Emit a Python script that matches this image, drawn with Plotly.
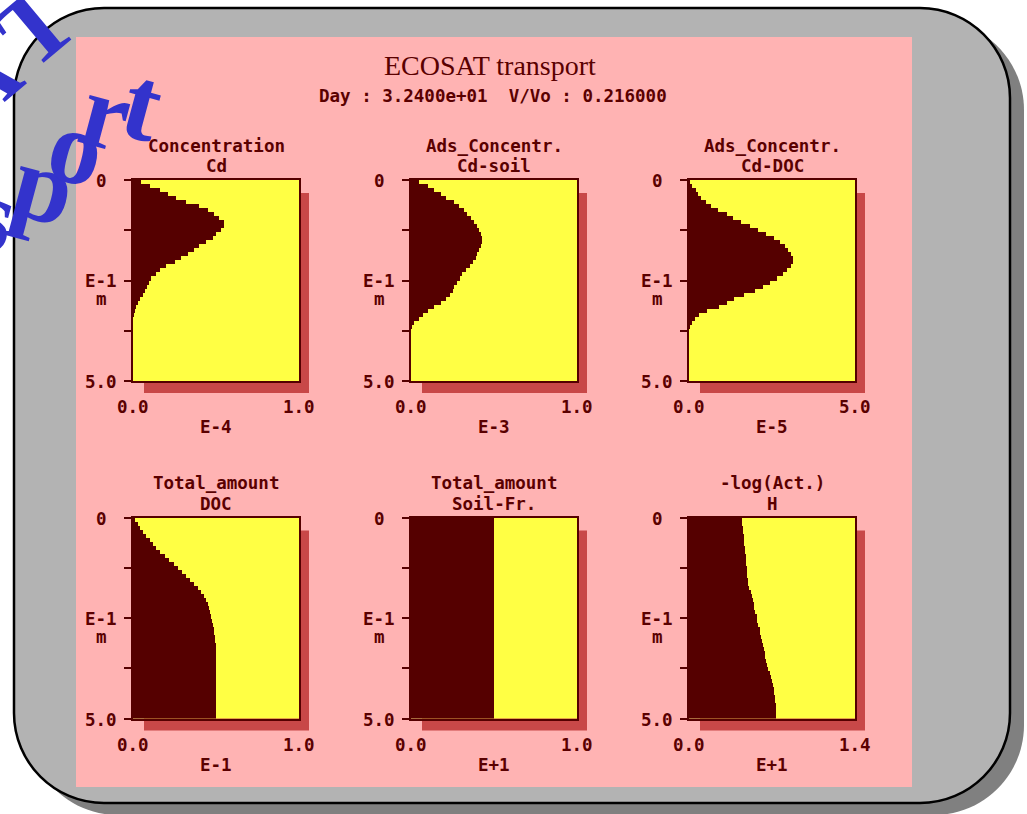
import plotly.graph_objects as go

W, H = 1027, 814

# ---------------------------------------------------------------------------
# Data (depth layers of 0.01 m, values in the units shown under each panel)
# ---------------------------------------------------------------------------

DEPTH = [0.005, 0.015, 0.025, 0.035, 0.045, 0.055, 0.065, 0.075, 0.085, 0.095,
         0.105, 0.115, 0.125, 0.135, 0.145, 0.155, 0.165, 0.175, 0.185, 0.195,
         0.205, 0.215, 0.225, 0.235, 0.245, 0.255, 0.265, 0.275, 0.285, 0.295,
         0.305, 0.315, 0.325, 0.335, 0.345, 0.355, 0.365, 0.375, 0.385, 0.395,
         0.405, 0.415, 0.425, 0.435, 0.445, 0.455, 0.465, 0.475, 0.485, 0.495]

CONC_CD = [0.05, 0.10, 0.16, 0.21, 0.26, 0.32, 0.40, 0.45, 0.49, 0.52,
           0.55, 0.55, 0.53, 0.50, 0.48, 0.44, 0.40, 0.37, 0.33, 0.29,
           0.25, 0.20, 0.16, 0.14, 0.11, 0.095, 0.085, 0.07, 0.06, 0.045,
           0.03, 0.018, 0.008, 0.002, 0, 0, 0, 0, 0, 0,
           0, 0, 0, 0, 0, 0, 0, 0, 0, 0]

ADS_CD_SOIL = [0.05, 0.10, 0.14, 0.18, 0.21, 0.26, 0.29, 0.32, 0.34, 0.36,
               0.38, 0.40, 0.41, 0.42, 0.43, 0.425, 0.42, 0.41, 0.40, 0.39,
               0.375, 0.355, 0.33, 0.31, 0.295, 0.28, 0.26, 0.25, 0.235, 0.21,
               0.18, 0.14, 0.10, 0.07, 0.05, 0.02, 0.005, 0, 0, 0,
               0, 0, 0, 0, 0, 0, 0, 0, 0, 0]

ADS_CD_DOC = [0.02, 0.10, 0.20, 0.26, 0.36, 0.52, 0.67, 0.88, 1.13, 1.33,
              1.58, 1.83, 2.08, 2.33, 2.55, 2.75, 2.88, 2.98, 3.06, 3.12,
              3.14, 3.06, 2.96, 2.82, 2.66, 2.45, 2.24, 1.98, 1.65, 1.35,
              1.15, 0.90, 0.55, 0.30, 0.18, 0.08, 0.02, 0, 0, 0,
              0, 0, 0, 0, 0, 0, 0, 0, 0, 0]

TOTAL_DOC = [0.01, 0.03, 0.04, 0.06, 0.08, 0.10, 0.12, 0.14, 0.16, 0.19,
             0.215, 0.245, 0.27, 0.295, 0.32, 0.345, 0.37, 0.39, 0.41, 0.425,
             0.44, 0.45, 0.46, 0.465, 0.47, 0.475, 0.48, 0.485, 0.49, 0.493,
             0.496, 0.498, 0.50, 0.50, 0.50, 0.50, 0.50, 0.50, 0.50, 0.50,
             0.50, 0.50, 0.50, 0.50, 0.50, 0.50, 0.50, 0.50, 0.50, 0.50]

TOTAL_SOIL = [0.5, 0.5, 0.5, 0.5, 0.5, 0.5, 0.5, 0.5, 0.5, 0.5,
              0.5, 0.5, 0.5, 0.5, 0.5, 0.5, 0.5, 0.5, 0.5, 0.5,
              0.5, 0.5, 0.5, 0.5, 0.5, 0.5, 0.5, 0.5, 0.5, 0.5,
              0.5, 0.5, 0.5, 0.5, 0.5, 0.5, 0.5, 0.5, 0.5, 0.5,
              0.5, 0.5, 0.5, 0.5, 0.5, 0.5, 0.5, 0.5, 0.5, 0.5]

LOG_ACT_H = [0.448, 0.450, 0.455, 0.457, 0.460, 0.464, 0.467, 0.470, 0.474, 0.477,
             0.480, 0.483, 0.486, 0.489, 0.492, 0.495, 0.50, 0.51, 0.52, 0.53,
             0.54, 0.545, 0.55, 0.56, 0.57, 0.575, 0.585, 0.595, 0.60, 0.605,
             0.615, 0.625, 0.632, 0.64, 0.645, 0.65, 0.66, 0.67, 0.68, 0.69,
             0.70, 0.71, 0.715, 0.72, 0.725, 0.728, 0.73, 0.732, 0.733, 0.733]

TITLES = [("Concentration", "Cd"), ("Ads_Concentr.", "Cd-soil"), ("Ads_Concentr.", "Cd-DOC"),
          ("Total_amount", "DOC"), ("Total_amount", "Soil-Fr."), ("-log(Act.)", "H")]
SERIES = [CONC_CD, ADS_CD_SOIL, ADS_CD_DOC, TOTAL_DOC, TOTAL_SOIL, LOG_ACT_H]
X_MAX = [1.0, 1.0, 5.0, 1.0, 1.0, 1.4]
X_MAX_LABELS = ["1.0", "1.0", "5.0", "1.0", "1.0", "1.4"]
X_UNITS = ["E-4", "E-3", "E-5", "E-1", "E+1", "E+1"]
Y_TICKS = [0, 0.125, 0.25, 0.375, 0.5]

MAIN_TITLE = "ECOSAT transport"
SUBTITLE = "Day : 3.2400e+01&nbsp; V/Vo : 0.216000"

# ---------------------------------------------------------------------------
# Style
# ---------------------------------------------------------------------------

DARK = "#550000"
TEXT = "#5a0000"
YELLOW = "#ffff44"
PINK = "#ffb3b3"
SHADOW = "#c84848"
GREY = "#b3b3b3"
MONO = dict(family="DejaVu Sans Mono", size=17.5, color=TEXT, weight="bold")

COL_LEFT = [133, 411, 689]
ROW_TOP = [180, 517.5]
PW, PH = 166, 201


def px(x):
    return x / W


def py(y):
    return 1 - y / H


def rounded_path(x0, y0, x1, y1, r):
    k = 0.5523 * r
    pts = [
        ("M", [(x0 + r, y0)]),
        ("L", [(x1 - r, y0)]),
        ("C", [(x1 - r + k, y0), (x1, y0 + r - k), (x1, y0 + r)]),
        ("L", [(x1, y1 - r)]),
        ("C", [(x1, y1 - r + k), (x1 - r + k, y1), (x1 - r, y1)]),
        ("L", [(x0 + r, y1)]),
        ("C", [(x0 + r - k, y1), (x0, y1 - r + k), (x0, y1 - r)]),
        ("L", [(x0, y0 + r)]),
        ("C", [(x0, y0 + r - k), (x0 + r - k, y0), (x0 + r, y0)]),
    ]
    out = ""
    for cmd, coords in pts:
        out += cmd + " ".join(f"{px(a):.5f},{py(b):.5f}" for a, b in coords) + " "
    return out + "Z"


def label(text, x, y, xref="paper", yref="paper", **kw):
    return dict(text=text, x=x, y=y, xref=xref, yref=yref, showarrow=False,
                xanchor="center", yanchor="middle", font=MONO, **kw)


fig = go.Figure()
shapes = []
annotations = []

# slide frame
shapes.append(dict(type="path", path=rounded_path(28, 20, 1024, 815, 90), xref="paper", yref="paper",
                   fillcolor="#808080", line=dict(width=0), layer="below"))
shapes.append(dict(type="path", path=rounded_path(14, 8, 1010, 803, 90), xref="paper", yref="paper",
                   fillcolor=GREY, line=dict(color="black", width=2.5), layer="below"))
shapes.append(dict(type="rect", x0=px(76), x1=px(912), y0=py(37), y1=py(787), xref="paper", yref="paper",
                   fillcolor=PINK, line=dict(width=0), layer="below"))

annotations.append(dict(text=MAIN_TITLE, x=px(490), y=py(65), xref="paper", yref="paper", showarrow=False,
                        xanchor="center", yanchor="middle",
                        font=dict(family="Liberation Serif", size=28, color=TEXT)))
annotations.append(label(SUBTITLE, px(493), py(96)))

for i, vals in enumerate(SERIES):
    row, col = divmod(i, 3)
    left, top = COL_LEFT[col], ROW_TOP[row]
    n = "" if i == 0 else str(i + 1)
    xa, ya = "x" + n, "y" + n

    # panel drop shadow, then the panel face
    shapes.append(dict(type="rect", x0=px(left + 11), x1=px(left + PW + 10), y0=py(top + 13), y1=py(top + PH + 12),
                       xref="paper", yref="paper", fillcolor=SHADOW, line=dict(width=0), layer="below"))
    shapes.append(dict(type="rect", x0=px(left), x1=px(left + PW), y0=py(top), y1=py(top + PH),
                       xref="paper", yref="paper", fillcolor=YELLOW, line=dict(width=0), layer="below"))

    fig.add_trace(go.Bar(x=vals, y=DEPTH, orientation="h", width=0.01, marker=dict(color=DARK, line=dict(width=0)),
                         xaxis=xa, yaxis=ya, hoverinfo="skip", showlegend=False))

    fig.update_layout({
        "xaxis" + n: dict(domain=[px(left), px(left + PW)], range=[0, X_MAX[i]], anchor=ya,
                          showticklabels=False, ticks="", showgrid=False, zeroline=False,
                          showline=True, mirror=True, linecolor=DARK, linewidth=1.5),
        "yaxis" + n: dict(domain=[py(top + PH), py(top)], range=[0.5, 0], anchor=xa,
                          tickvals=Y_TICKS, ticks="outside", ticklen=7, tickwidth=1.5, tickcolor=DARK,
                          showticklabels=False, showgrid=False, zeroline=False,
                          showline=True, mirror=True, linecolor=DARK, linewidth=1.5),
    })

    t1, t2 = TITLES[i]
    cx = left + PW / 2
    annotations.append(label(t1, px(cx), py(top - 34)))
    annotations.append(label(t2, px(cx), py(top - 14)))

    # depth axis labels
    for lab, yv in [("0", 0), ("E-1", 0.25), ("5.0", 0.5)]:
        annotations.append(label(lab, px(left - 32), yv, yref=ya, yshift=-1))
    annotations.append(label("m", px(left - 32), 0.25, yref=ya, yshift=-19))

    # value axis labels
    for lab, xv in [("0.0", 0), (X_MAX_LABELS[i], X_MAX[i])]:
        annotations.append(label(lab, xv, py(top + PH + 26), xref=xa))
    annotations.append(label(X_UNITS[i], X_MAX[i] / 2, py(top + PH + 46), xref=xa))

# WordArt title in the corner of the slide
WORDART = [("A", -22, 80, -40, 100), ("T", 36, 26, -40, 100),
           ("s", -6, 214, 15, 105), ("p", 44, 186, 15, 105), ("o", 77, 147, 15, 105),
           ("r", 106, 112, 15, 105), ("t", 142, 104, 15, 105)]
for ch, x, y, ang, size in WORDART:
    annotations.append(dict(text=ch, x=px(x), y=py(y), xref="paper", yref="paper", showarrow=False,
                            textangle=ang, xanchor="center", yanchor="middle",
                            font=dict(family="Liberation Serif", size=size, color="#3333cc", weight="bold")))

fig.update_layout(
    width=W, height=H,
    margin=dict(l=0, r=0, t=0, b=0),
    paper_bgcolor="white",
    plot_bgcolor="rgba(0,0,0,0)",
    bargap=0,
    showlegend=False,
    shapes=shapes,
    annotations=annotations,
)

fig.write_html("out.html", config={"displayModeBar": False},
               post_script="document.body.style.margin = '0px';")
